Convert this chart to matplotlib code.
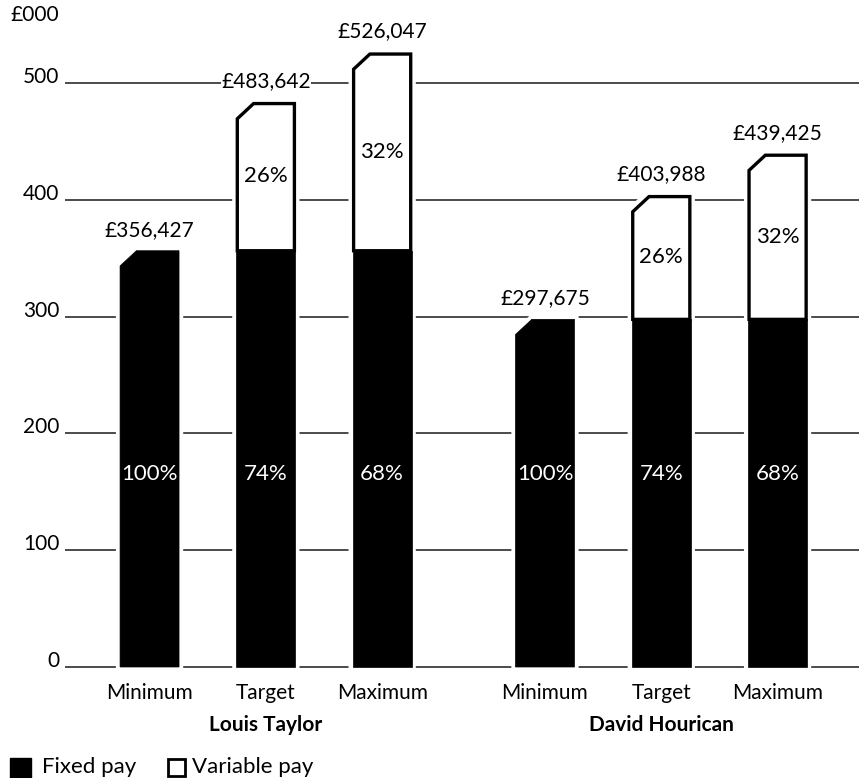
import matplotlib.pyplot as plt
from matplotlib.patches import Polygon, Rectangle

plt.rcParams['font.family'] = ['Lato', 'DejaVu Sans']

# data (£000)
people = ["Louis Taylor", "David Hourican"]
levels = ["Minimum", "Target", "Maximum"]
fixed = [356.427, 356.427, 356.427, 297.675, 297.675, 297.675]
variable = [0, 127.215, 169.620, 0, 106.313, 141.750]
total_labels = ["£356,427", "£483,642", "£526,047", "£297,675", "£403,988", "£439,425"]
fixed_pct = ["100%", "74%", "68%", "100%", "74%", "68%"]
variable_pct = ["", "26%", "32%", "", "26%", "32%"]
yticks = [0, 100, 200, 300, 400, 500]

group_gap = 1.4
xs = [g * (len(levels) + group_gap - 1) + i for g in range(len(people)) for i in range(len(levels))]
width = 0.507
cdx, cdy = 0.14, 13  # chamfer on top-left corner

W, H = 859, 778
fig = plt.figure(figsize=(W / 100, H / 100), dpi=100)
ax = fig.add_axes([65 / W, 111 / H, 794 / W, 647 / H])
xmin, xmax = -0.727, 6.10
ax.set_xlim(xmin, xmax)
ax.set_ylim(0, 554)
ax.axis('off')

# gridlines + y labels
ax.hlines(yticks, xmin, xmax, color='#1a1a1a', lw=1.1, zorder=1, clip_on=False)
for t in yticks:
    ax.annotate(str(t), (xmin, t), xytext=(-4, 0), textcoords='offset points',
                ha='right', va='baseline', fontsize=15, annotation_clip=False)
ax.annotate("£000", (xmin, yticks[-1]), xytext=(-4, 45), textcoords='offset points',
            ha='right', va='baseline', fontsize=15, annotation_clip=False)


def shape(x0, x1, b, t, chamfer):
    if chamfer:
        return [(x0, b), (x1, b), (x1, t), (x0 + cdx, t), (x0, t - cdy)]
    return [(x0, b), (x1, b), (x1, t), (x0, t)]


for x, f, v, lab, fp, vp in zip(xs, fixed, variable, total_labels, fixed_pct, variable_pct):
    x0, x1 = x - width / 2, x + width / 2
    top = f + v
    # white halo to break gridlines around each bar
    ax.add_patch(Polygon(shape(x0, x1, 0.5, top, True), closed=True, fc='white',
                         ec='white', lw=6, zorder=2, clip_on=False))
    ax.add_patch(Polygon(shape(x0, x1, 0, f, v == 0), closed=True, fc='black',
                         ec='black', lw=0.5, zorder=3, clip_on=False))
    if v > 0:
        ax.add_patch(Polygon(shape(x0 + 0.008, x1 - 0.008, f, top - 1.2, True), closed=True,
                             fc='white', ec='black', lw=2.4, joinstyle='miter', zorder=3))
        ax.text(x, f + v / 2, vp, ha='center', va='center', fontsize=16, zorder=4)
    ax.text(x, 165, fp, ha='center', va='center', fontsize=16, color='white', zorder=4)
    ax.annotate(lab, (x, top), xytext=(0, 8), textcoords='offset points',
                ha='center', va='bottom', fontsize=15, zorder=5,
                bbox=dict(fc='white', ec='none', pad=0.3))

# category and group labels
for i, x in enumerate(xs):
    ax.annotate(levels[i % len(levels)], (x, 0), xytext=(0, -19), textcoords='offset points',
                ha='center', va='center', fontsize=15, annotation_clip=False)
for g, name in enumerate(people):
    xc = xs[g * len(levels) + 1]
    ax.annotate(name, (xc, 0), xytext=(0, -42), textcoords='offset points',
                ha='center', va='center', fontsize=15, fontweight='bold',
                annotation_clip=False)

# legend at the bottom
fig.patches.append(Rectangle((10 / W, 1 - 778 / H), 21 / W, 20 / H, fc='black', ec='black',
                             transform=fig.transFigure, figure=fig))
fig.text(42 / W, 1 - 773 / H, "Fixed pay", fontsize=16, va='baseline')
fig.patches.append(Rectangle((168 / W, 1 - 776 / H), 17 / W, 17 / H, fc='white', ec='black',
                             lw=2, transform=fig.transFigure, figure=fig))
fig.text(192 / W, 1 - 773 / H, "Variable pay", fontsize=16, va='baseline')

fig.savefig("out.png", dpi=100, facecolor='white')
